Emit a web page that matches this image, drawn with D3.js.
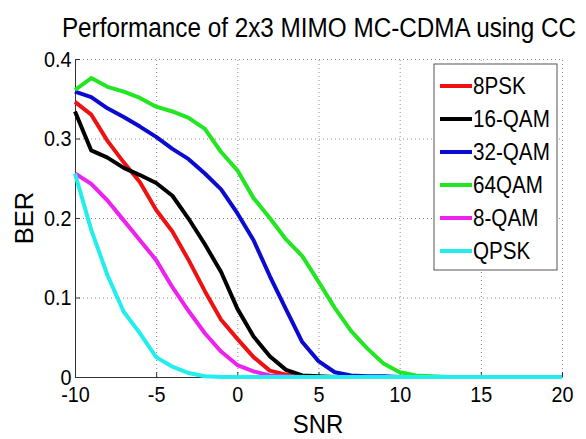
<!DOCTYPE html>
<html>
<head>
<meta charset="utf-8">
<script src="https://cdn.jsdelivr.net/npm/d3@7"></script>
<style>
    body { margin: 0; background: #fff; }
    svg { display: block; font-family: "Liberation Sans", Arial, sans-serif; }
    .grid line { stroke: #8a8a8a; stroke-dasharray: 1,3; }
    .grid path { display: none; }
    .axis path, .axis line { stroke: #333; }
    .axis text { font-size: 22px; fill: #000; }
</style>
</head>
<body>
<svg id="chart" width="586" height="439"></svg>
<script>
// Data
const snr = [-10, -9, -8, -7, -6, -5, -4, -3, -2, -1, 0, 1, 2, 3, 4, 5, 6, 7, 8, 9, 10,
             11, 12, 13, 14, 15, 16, 17, 18, 19, 20];
const ber8PSK  = [0.346, 0.330, 0.297, 0.270, 0.245, 0.210, 0.183, 0.147, 0.108, 0.072, 0.048,
                  0.025, 0.008, 0.003, 0.001, 0, 0, 0, 0, 0, 0, 0, 0, 0, 0, 0, 0, 0, 0, 0, 0];
const ber16QAM = [0.334, 0.285, 0.276, 0.263, 0.254, 0.244, 0.228, 0.199, 0.167, 0.132, 0.086,
                  0.051, 0.026, 0.009, 0.002, 0.001, 0, 0, 0, 0, 0, 0, 0, 0, 0, 0, 0, 0, 0, 0, 0];
const ber32QAM = [0.359, 0.352, 0.338, 0.327, 0.315, 0.302, 0.287, 0.274, 0.256, 0.236, 0.206,
                  0.172, 0.127, 0.085, 0.044, 0.020, 0.006, 0.002, 0.001, 0.001, 0, 0, 0, 0, 0, 0, 0, 0, 0, 0, 0];
const ber64QAM = [0.361, 0.376, 0.365, 0.359, 0.351, 0.340, 0.334, 0.326, 0.312, 0.283, 0.260,
                  0.225, 0.200, 0.173, 0.152, 0.120, 0.087, 0.058, 0.036, 0.017, 0.006,
                  0.002, 0.001, 0, 0, 0, 0, 0, 0, 0, 0];
const ber8QAM  = [0.256, 0.243, 0.222, 0.197, 0.172, 0.147, 0.113, 0.083, 0.055, 0.032, 0.015,
                  0.007, 0.002, 0.001, 0, 0, 0, 0, 0, 0, 0, 0, 0, 0, 0, 0, 0, 0, 0, 0, 0];
const berQPSK  = [0.256, 0.185, 0.128, 0.082, 0.055, 0.025, 0.013, 0.005, 0.001, 0, 0,
                  0, 0, 0, 0, 0, 0, 0, 0, 0, 0, 0, 0, 0, 0, 0, 0, 0, 0, 0, 0];
const seriesNames = ["8PSK", "16-QAM", "32-QAM", "64QAM", "8-QAM", "QPSK"];
const seriesColors = ["#ee1111", "#000000", "#0a0ad0", "#22e622", "#ee22ee", "#22eeee"];
const xTicks = [-10, -5, 0, 5, 10, 15, 20];
const yTicks = [0, 0.1, 0.2, 0.3, 0.4];

document.addEventListener("DOMContentLoaded", function() {

    const svg = d3.select("#chart");
    const left = 75, right = 562, top = 59, bottom = 377;

    const x = d3.scaleLinear().domain([-10, 20]).range([left, right]);
    const y = d3.scaleLinear().domain([0, 0.4]).range([bottom, top]);

    ////////// Grid //////////
    svg.append("g")
        .attr("class", "grid")
        .attr("transform", `translate(0,${bottom})`)
        .call(d3.axisBottom(x).tickValues(xTicks.slice(1)).tickSize(-(bottom - top)).tickFormat(""));
    svg.append("g")
        .attr("class", "grid")
        .attr("transform", `translate(${left},0)`)
        .call(d3.axisLeft(y).tickValues(yTicks.slice(1)).tickSize(-(right - left)).tickFormat(""));

    ////////// Axes (ticks inside, like matlab) //////////
    svg.append("g")
        .attr("class", "axis")
        .attr("transform", `translate(0,${bottom})`)
        .call(d3.axisBottom(x).tickValues(xTicks).tickSizeInner(-5).tickSizeOuter(0).tickPadding(9)
            .tickFormat(d3.format("d")));
    svg.append("g")
        .attr("class", "axis")
        .attr("transform", `translate(${left},0)`)
        .call(d3.axisLeft(y).tickValues(yTicks).tickSizeInner(-5).tickSizeOuter(0).tickPadding(4)
            .tickFormat(d => d === 0 ? "0" : d3.format(".1f")(d)));
    // plain hyphen for minus, narrower glyphs
    svg.selectAll(".axis text")
        .text(function() { return this.textContent.replace("\u2212", "-"); })
        .attr("transform", "scale(0.9,1)");

    ////////// Curves //////////
    const allSeries = [ber8PSK, ber16QAM, ber32QAM, ber64QAM, ber8QAM, berQPSK];
    const line = d3.line()
        .x((d, i) => x(snr[i]))
        .y(d => y(d));

    allSeries.forEach((vals, k) => {
        svg.append("path")
            .datum(vals)
            .attr("fill", "none")
            .attr("stroke", seriesColors[k])
            .attr("stroke-width", 4)
            .attr("stroke-linejoin", "round")
            .attr("d", line);
    });

    ////////// Texts //////////
    function squeezed(px, py, str, size, sx, anchor, rot) {
        return svg.append("text")
            .attr("transform", `translate(${px},${py}) rotate(${rot || 0}) scale(${sx},1)`)
            .attr("text-anchor", anchor)
            .style("font-size", size + "px")
            .text(str);
    }
    squeezed(319, 37, "Performance of 2x3 MIMO MC-CDMA using CC", 27, 0.9, "middle");
    squeezed(318, 433, "SNR", 26, 0.92, "middle");
    squeezed(33, 218, "BER", 26, 0.98, "middle", -90);

    ////////// Legend //////////
    const legend = svg.append("g");
    legend.append("rect")
        .attr("x", 434).attr("y", 64)
        .attr("width", 123).attr("height", 206)
        .attr("fill", "#fff")
        .attr("stroke", "#555");
    seriesNames.forEach((name, k) => {
        const ly = 86 + k * 33;
        legend.append("line")
            .attr("x1", 440).attr("x2", 472)
            .attr("y1", ly).attr("y2", ly)
            .attr("stroke", seriesColors[k])
            .attr("stroke-width", 4);
        legend.append("text")
            .attr("transform", `translate(473,${ly + 8}) scale(0.86,1)`)
            .style("font-size", "24px")
            .text(name);
    });
});
</script>
</body>
</html>
